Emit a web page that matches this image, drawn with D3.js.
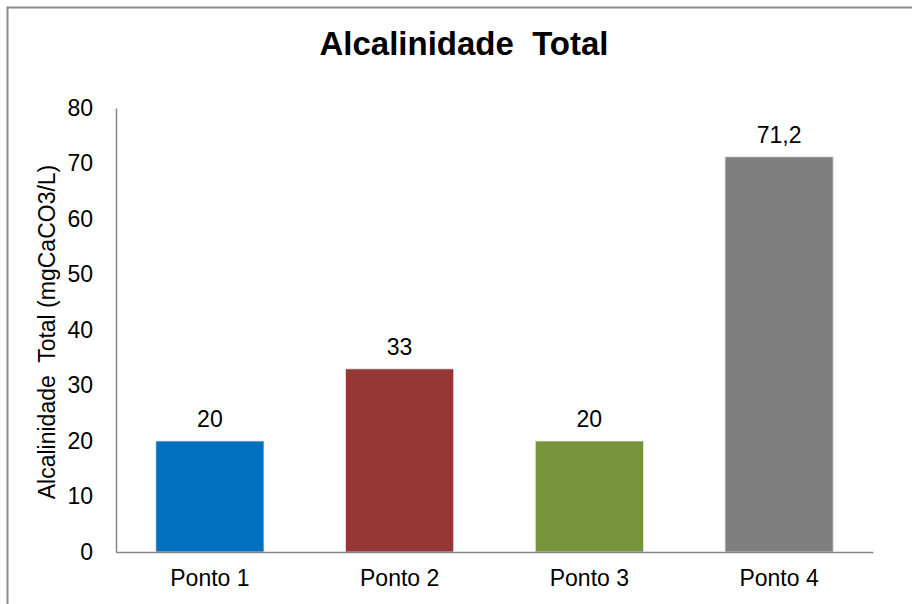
<!DOCTYPE html>
<html>
<head>
<meta charset="utf-8">
<script src="https://cdn.jsdelivr.net/npm/d3@7"></script>
<style>
  body { margin: 0; background: #fff; }
  text { font-family: "Liberation Sans", Arial, sans-serif; fill: #000; }
</style>
</head>
<body>
<div class="chart"></div>
<script>
const categories = ["Ponto 1", "Ponto 2", "Ponto 3", "Ponto 4"];
const values = [20, 33, 20, 71.2];
const valueLabels = ["20", "33", "20", "71,2"];
const barColors = ["#0070C0", "#953735", "#77933C", "#7F7F7F"];
const yTicks = [0, 10, 20, 30, 40, 50, 60, 70, 80];

const width = 912;
const height = 604;
const margin = { top: 108, bottom: 52, left: 116, right: 39 };

const svg = d3.select("div.chart")
    .append("svg")
    .attr("width", width)
    .attr("height", height);

// outer chart frame
svg.append("rect")
    .attr("x", 7.5).attr("y", 7.5)
    .attr("width", width + 10).attr("height", height + 10)
    .attr("fill", "none")
    .attr("stroke", "#8c8c8c")
    .attr("stroke-width", 2);

const x = d3.scaleBand()
    .domain(categories)
    .range([margin.left, width - margin.right])
    .paddingInner(0.43)
    .paddingOuter(0.21);

const y = d3.scaleLinear()
    .domain([0, 80])
    .range([height - margin.bottom, margin.top]);

// title
svg.append("text")
    .attr("x", 464).attr("y", 55)
    .attr("text-anchor", "middle")
    .attr("font-size", 33)
    .attr("font-weight", "bold")
    .style("white-space", "pre")
    .text("Alcalinidade  Total");

// bars
svg.append("g")
    .selectAll("rect")
    .data(values)
    .join("rect")
    .attr("x", (_d, i) => x(categories[i]))
    .attr("width", x.bandwidth())
    .attr("y", d => y(d))
    .attr("height", d => y(0) - y(d))
    .attr("fill", (_d, i) => barColors[i])
    .attr("stroke", "#e6e6e6")
    .attr("stroke-width", 0.8);

// value labels
svg.append("g")
    .selectAll("text")
    .data(values)
    .join("text")
    .attr("x", (_d, i) => x(categories[i]) + x.bandwidth() / 2)
    .attr("y", d => y(d) - 14)
    .attr("text-anchor", "middle")
    .attr("font-size", 23)
    .text((_d, i) => valueLabels[i]);

// y axis
const yAxis = svg.append("g")
    .attr("transform", `translate(${margin.left},0)`)
    .call(d3.axisLeft(y).tickValues(yTicks).tickSize(0).tickPadding(23));
yAxis.select(".domain").attr("stroke", "#868686").attr("stroke-width", 1.5);
yAxis.selectAll("text").attr("font-size", 23).attr("font-family", null).attr("fill", "#000");

// x axis
const xAxis = svg.append("g")
    .attr("transform", `translate(0,${height - margin.bottom})`)
    .call(d3.axisBottom(x).tickSize(0).tickPadding(18));
xAxis.select(".domain").attr("stroke", "#868686").attr("stroke-width", 1.5);
xAxis.selectAll("text").attr("font-size", 23).attr("font-family", null).attr("fill", "#000");

// y axis title
svg.append("text")
    .attr("transform", `translate(55,${(y(0) + y(80)) / 2 + 2}) rotate(-90)`)
    .attr("text-anchor", "middle")
    .attr("font-size", 23)
    .text("Alcalinidade  Total (mgCaCO3/L)")
    .style("white-space", "pre");
</script>
</body>
</html>
